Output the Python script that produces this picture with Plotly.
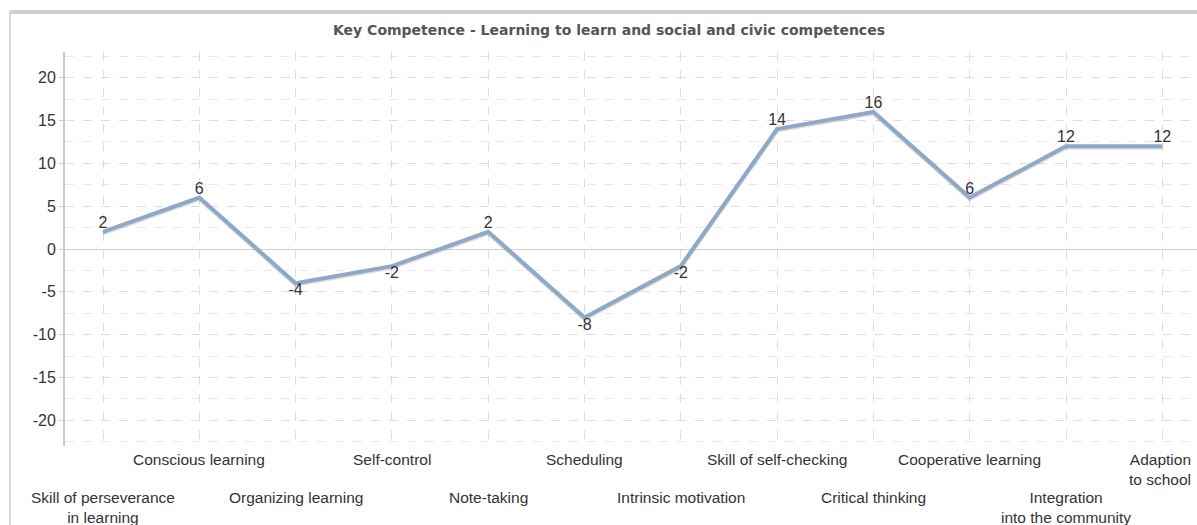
import plotly.graph_objects as go

categories = [
    "Skill of perseverance<br>in learning",
    "Conscious learning",
    "Organizing learning",
    "Self-control",
    "Note-taking",
    "Scheduling",
    "Intrinsic motivation",
    "Skill of self-checking",
    "Critical thinking",
    "Cooperative learning",
    "Integration<br>into the community",
    "Adaption<br>to school",
]
values = [2, 6, -4, -2, 2, -8, -2, 14, 16, 6, 12, 12]
y_ticks = [20, 15, 10, 5, 0, -5, -10, -15, -20]
title = "Key Competence - Learning to learn and social and civic competences"

W, H = 1197, 525
L, R, T, B = 65, 0, 52, 525 - 446
pw, ph = W - L - R, H - T - B
step = 96.3
x_lo = -(103 - 65) / step
x_hi = x_lo + pw / step

def px_x(p):  # screen pixel -> paper
    return (p - L) / pw

def px_y(p):
    return (H - B - p) / ph

FONT = "Liberation Sans, Arial"
xs = list(range(len(categories)))
fig = go.Figure()

# soft shadow
fig.add_trace(go.Scatter(
    x=xs, y=[v - 0.15 for v in values], mode="lines",
    line=dict(color="rgba(0,0,0,0.13)", width=4.5),
    hoverinfo="skip", showlegend=False,
))
fig.add_trace(go.Scatter(
    x=xs, y=values, mode="lines+text",
    line=dict(color="#8fa8c6", width=4),
    text=[str(v) for v in values],
    textposition=["top center" if v >= 0 else "bottom center" for v in values],
    textfont=dict(family=FONT, size=16, color="#333333"),
    showlegend=False,
))

annotations = []
n = len(categories)
for i, c in enumerate(categories):
    last = i == n - 1
    annotations.append(dict(
        x=i, xref="x", y=px_y(449 if i % 2 else 487), yref="paper",
        text=c, showarrow=False, yanchor="top",
        xanchor="right" if last else "center",
        xshift=31 if last else 0,
        align="right" if last else "center",
        font=dict(family=FONT, size=15.5, color="#333333"),
    ))

shapes = [
    dict(type="rect", xref="paper", yref="paper",
         x0=px_x(9), x1=1.0, y0=px_y(14), y1=px_y(10),
         fillcolor="#d0d0d0", line=dict(width=0), layer="below"),
    dict(type="line", xref="paper", yref="paper",
         x0=px_x(10), x1=px_x(10), y0=px_y(10), y1=px_y(525),
         line=dict(color="#d8d8d8", width=2), layer="below"),
]

fig.update_layout(
    width=W, height=H,
    margin=dict(l=L, r=R, t=T, b=B),
    paper_bgcolor="white", plot_bgcolor="white",
    title=dict(text="<b>" + title + "</b>", x=609 / W, xref="container", xanchor="center",
               y=1 - 30 / H, yref="container", yanchor="middle",
               font=dict(family="Verdana, DejaVu Sans", size=14, color="#555555")),
    annotations=annotations,
    shapes=shapes,
    xaxis=dict(
        range=[x_lo, x_hi], showticklabels=False, ticks="",
        tickmode="array", tickvals=xs,
        showgrid=True, gridcolor="#dddddd", griddash="dash", gridwidth=1,
        zeroline=False, showline=False, fixedrange=True,
    ),
    yaxis=dict(
        range=[-23, 23], tickmode="array", tickvals=y_ticks,
        ticktext=[str(t) for t in y_ticks],
        tickfont=dict(family=FONT, size=16, color="#333333"),
        ticks="outside", ticklen=4, tickcolor="#cccccc",
        showgrid=True, gridcolor="#dddddd", griddash="dash", gridwidth=1,
        minor=dict(dtick=2.5, tick0=0, showgrid=True, gridcolor="#e8e8e8", griddash="dash", ticks=""),
        zeroline=True, zerolinecolor="#d0d0d0", zerolinewidth=1,
        showline=True, linecolor="#cccccc", linewidth=2,
        fixedrange=True,
    ),
)

fig.write_html(
    "out.html",
    config={"displayModeBar": False},
    post_script="document.body.style.margin='0';document.body.style.overflow='hidden';",
)
